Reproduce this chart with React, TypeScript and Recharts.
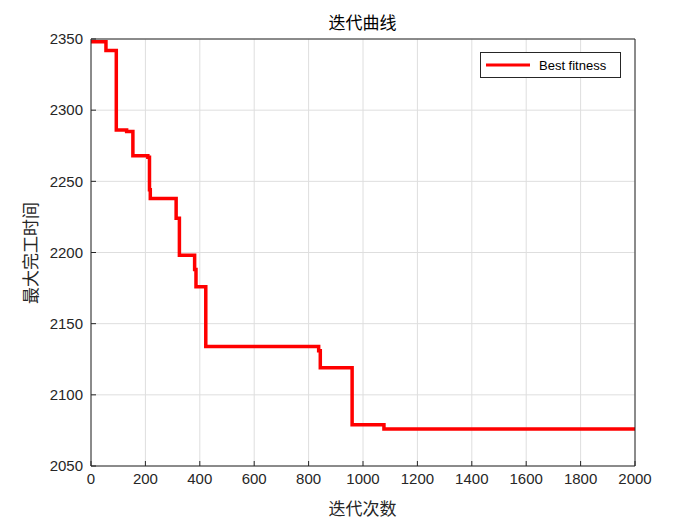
import { LineChart, Line, XAxis, YAxis, CartesianGrid } from 'recharts'

// iteration where best fitness changes, and the new value
const iterations = [0, 55, 93, 131, 154, 209, 215, 218, 313, 325, 381, 386, 422, 837, 843, 960, 1077, 2000]
const bestFitness = [2348, 2342, 2286, 2285, 2268, 2267, 2244, 2238, 2224, 2198, 2188, 2176, 2134, 2131, 2119, 2079, 2076, 2076]

const xTicks = [0, 200, 400, 600, 800, 1000, 1200, 1400, 1600, 1800, 2000]
const yTicks = [2050, 2100, 2150, 2200, 2250, 2300, 2350]

const data = iterations.map((iter, i) => ({ iter, fitness: bestFitness[i] }))

const AXIS = '#262626'
const FONT = '"Liberation Sans", Arial, sans-serif'
const CJK = '"Noto Sans CJK SC", sans-serif'

function LegendBox() {
  return (
    <div
      style={{
        position: 'absolute',
        left: 480,
        top: 52,
        width: 139,
        height: 24,
        border: '1px solid #262626',
        background: '#fff',
        display: 'flex',
        alignItems: 'center',
        fontFamily: FONT,
        fontSize: 13,
        color: '#000',
        zIndex: 2,
      }}
    >
      <svg width={52} height={10} style={{ marginLeft: 5 }}>
        <line x1={0} y1={5} x2={44} y2={5} stroke="#ff0000" strokeWidth={3} />
      </svg>
      <span style={{ marginLeft: 1 }}>Best fitness</span>
    </div>
  )
}

const cjkText = {
  position: 'absolute' as const,
  textAlign: 'center' as const,
  fontFamily: CJK,
  fontSize: 17,
  lineHeight: '22px',
  color: '#262626',
}

export default function App() {
  return (
    <div style={{ position: 'absolute', left: 0, top: 0, width: 700, height: 525, background: '#fff' }}>
      <LineChart width={700} height={525} data={data} margin={{ top: 39, right: 65, bottom: 0, left: 0 }}>
        <CartesianGrid stroke="#dedede" strokeWidth={1} />
        <XAxis
          dataKey="iter"
          type="number"
          domain={[0, 2000]}
          ticks={xTicks}
          height={59}
          tickSize={-5}
          tickMargin={12}
          stroke={AXIS}
          tick={{ fill: AXIS, fontSize: 15, fontFamily: FONT }}
          interval={0}
        />
        <XAxis
          xAxisId="top"
          dataKey="iter"
          orientation="top"
          type="number"
          domain={[0, 2000]}
          ticks={xTicks}
          height={1}
          mirror
          tickSize={5}
          tick={false}
          stroke={AXIS}
        />
        <YAxis
          type="number"
          domain={[2050, 2350]}
          ticks={yTicks}
          width={91}
          tickSize={-5}
          tickMargin={13}
          stroke={AXIS}
          tick={{ fill: AXIS, fontSize: 15, fontFamily: FONT }}
          interval={0}
        />
        <YAxis
          yAxisId="right"
          orientation="right"
          type="number"
          domain={[2050, 2350]}
          ticks={yTicks}
          width={1}
          mirror
          tickSize={5}
          tick={false}
          stroke={AXIS}
        />
        <Line
          xAxisId="top"
          yAxisId="right"
          dataKey="fitness"
          stroke="none"
          dot={false}
          legendType="none"
          isAnimationActive={false}
        />
        <Line
          type="stepAfter"
          dataKey="fitness"
          stroke="#ff0000"
          strokeWidth={3.5}
          dot={false}
          isAnimationActive={false}
        />
      </LineChart>
      <LegendBox />
      <div style={{ ...cjkText, left: 0, top: 11, width: 725, color: '#000' }}>迭代曲线</div>
      <div style={{ ...cjkText, left: 0, top: 497, width: 725 }}>迭代次数</div>
      <div style={{ ...cjkText, left: 30 - 70, top: 253 - 11, width: 140, transform: 'rotate(-90deg)' }}>
        最大完工时间
      </div>
    </div>
  )
}
